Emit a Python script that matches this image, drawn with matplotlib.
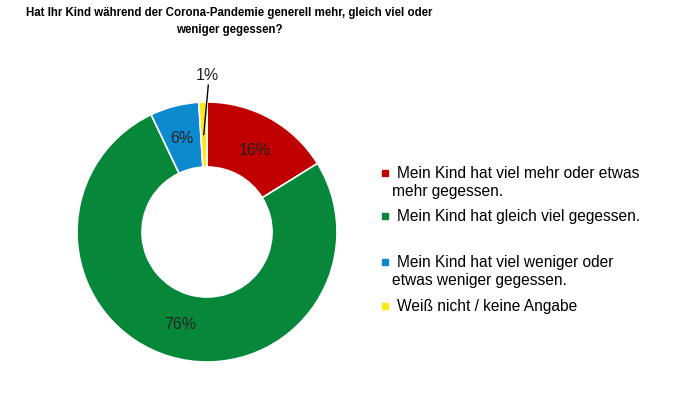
import matplotlib.pyplot as plt

plt.rcParams['font.family'] = ['Liberation Sans', 'DejaVu Sans']

title = "Hat Ihr Kind während der Corona-Pandemie generell mehr, gleich viel oder\nweniger gegessen?"
labels = ["Mein Kind hat viel mehr oder etwas\nmehr gegessen.",
          "Mein Kind hat gleich viel gegessen.",
          "Mein Kind hat viel weniger oder\netwas weniger gegessen.",
          "Weiß nicht / keine Angabe"]
values = [16, 76, 6, 1]
colors = ['#C00000', '#07873A', '#0C8AD0', '#FFE81A']

fig = plt.figure(figsize=(7, 3.94), dpi=100)
ax = fig.add_axes([77 / 700, 1 - 362 / 394, 260 / 700, 260 / 394])
wedges, _ = ax.pie(values, colors=colors, startangle=90, counterclock=False,
                   radius=1.0, wedgeprops=dict(width=0.5, edgecolor='white', linewidth=1.2))
ax.set_xlim(-1, 1)
ax.set_ylim(-1, 1)
ax.set_aspect('equal')

# percent labels
pos = [(0.37, 0.63), (-0.21, -0.71), (-0.19, 0.72)]
for (x, y), v in zip(pos, values[:3]):
    ax.text(x, y, f"{v}%", ha='center', va='center', fontsize=11.5, color='#222222')

# 1% label with leader line
ax.text(0.0, 1.20, f"{values[3]}%", ha='center', va='center', fontsize=11.5, color='#222222')
ax.plot([0.01, -0.025], [1.13, 0.75], color='black', lw=1, clip_on=False)

# title: shrink until the first line is about 408 px wide (reference font is narrow)
t = fig.text(229 / 700, 1 - 7 / 394, title, ha='center', va='top', fontsize=11,
             fontweight='bold', linespacing=1.6)
r = fig.canvas.get_renderer()
w = t.get_window_extent(r).width
t.set_fontsize(11 * 408 / w)

# legend
ys = [173, 216, 262, 306]
for lab, c, y in zip(labels, colors, ys):
    fig.patches.append(plt.Rectangle((382 / 700, 1 - (y + 3) / 394), 6 / 700, 6 / 394,
                                     transform=fig.transFigure, color=c))
    lines = lab.split("\n")
    fig.text(397 / 700, 1 - y / 394, lines[0], ha='left', va='center', fontsize=11.2)
    if len(lines) > 1:
        fig.text(392 / 700, 1 - (y + 18) / 394, lines[1], ha='left', va='center', fontsize=11.2)

fig.savefig('out.png', dpi=100)
